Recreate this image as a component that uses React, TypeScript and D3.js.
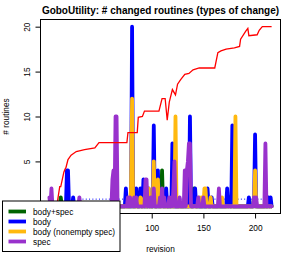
import { useEffect, useRef } from "react";
import * as d3 from "d3";

// revisions run 1..216, most revisions have no change of a given type
const N_REV = 216;

// [revision, # routines] - only the non-zero revisions are listed
const bodySpec: [number, number][] = [
  [12, 1], [110, 4], [141, 2], [175, 1], [199, 1],
];
const body: [number, number][] = [
  [18, 4], [19, 4], [24, 1], [75, 2], [81, 20], [85, 2], [89, 2], [92, 3], [97, 2],
  [102, 9], [106, 4], [114, 2], [120, 7], [137, 10], [142, 2], [154, 2], [158, 1],
  [173, 2], [178, 9], [194, 1], [200, 8], [213, 1], [215, 1],
];
const bodyNonemptySpec: [number, number][] = [
  [80, 2], [81, 12], [89, 1], [93, 1], [97, 2], [102, 5], [106, 3], [123, 10],
  [146, 1], [148, 1], [151, 2], [152, 2], [157, 1], [168, 1], [181, 10], [200, 4],
];
const spec: [number, number][] = [
  [1, 1], [3, 2], [30, 1], [62, 3], [63, 4], [65, 10], [66, 10], [77, 1], [79, 1],
  [83, 1], [85, 1], [94, 3], [95, 3], [99, 1], [102, 2], [108, 1], [110, 2], [112, 1],
  [117, 1], [119, 1], [121, 2], [122, 5], [127, 1], [132, 4], [134, 4], [135, 5],
  [136, 7], [137, 7], [145, 1], [150, 1], [165, 2], [199, 1], [201, 1], [210, 7],
];

// cumulative curve (red)
const trend: [number, number][] = [
  [8, 0], [9, 0.7], [11, 2.2], [12, 2.2], [15, 3.8], [16, 4.1], [17, 4.3], [19, 5.2],
  [22, 5.7], [27, 6.1], [35, 6.3], [45, 6.5], [49, 7.1], [76, 7.1], [77, 8.2], [86, 8.2],
  [87, 9.9], [91, 10.0], [93, 10.6], [107, 10.6], [110, 12.0], [113, 12.0], [115, 9.6],
  [117, 11.6], [120, 13.0], [123, 12.4], [125, 13.6], [128, 14.1], [132, 14.7],
  [136, 14.8], [140, 15.2], [146, 15.4], [161, 15.4], [164, 17.1], [167, 17.3],
  [172, 17.5], [180, 17.65], [185, 17.8], [186, 18.6], [191, 19.5], [193, 19.8],
  [194, 19.0], [202, 19.1], [204, 19.6], [207, 20.0], [216, 20.0],
];

// dotted reference level
const refLevel = 0.8;
const refFrom = 33;

// ticks that are not hidden by the legend
const xTicks = [100, 150, 200];
const yTicks = [5, 10, 15, 20];
const legendLabels = ["body+spec", "body", "body (nonempty spec)", "spec"];
const seriesColors = ["#006400", "#0000ff", "#ffb90f", "#9932cc"];

const FONT = "'Liberation Sans', Arial, Helvetica, sans-serif";

const App = () => {
  const ref = useRef<SVGSVGElement | null>(null);

  useEffect(() => {
    drawChart();
  }, []);

  const drawChart = () => {
    const svg = d3.select(ref.current);
    svg.selectAll("*").remove();

    const x = d3.scaleLinear().domain([-7.6, 224.6]).range([40.5, 280.5]);
    const y = d3.scaleLinear().domain([-0.8, 20.8]).range([213.5, 19.5]);

    const fullSeries = (pts: [number, number][]) => {
      const vals = new Array(N_REV).fill(0);
      pts.forEach(([r, v]) => (vals[r - 1] = v));
      return vals.map((v, i) => [i + 1, v] as [number, number]);
    };

    const line = d3
      .line<[number, number]>()
      .x((d) => x(d[0]))
      .y((d) => y(d[1]));

    // dotted level
    svg
      .append("line")
      .attr("x1", x(refFrom))
      .attr("x2", x(N_REV))
      .attr("y1", y(refLevel))
      .attr("y2", y(refLevel))
      .attr("stroke", "#0000ff")
      .attr("stroke-width", 1)
      .attr("stroke-dasharray", "1,2.3");

    // the four change types, drawn in legend order
    [bodySpec, body, bodyNonemptySpec, spec].forEach((s, i) => {
      svg
        .append("path")
        .attr("d", line(fullSeries(s)))
        .attr("fill", "none")
        .attr("stroke", seriesColors[i])
        .attr("stroke-width", 3.8)
        .attr("stroke-linejoin", "round")
        .attr("stroke-linecap", "round");
    });

    svg
      .append("path")
      .attr("d", line(trend))
      .attr("fill", "none")
      .attr("stroke", "#ff0000")
      .attr("stroke-width", 1.3);

    // box
    svg
      .append("rect")
      .attr("x", 40.5)
      .attr("y", 19.5)
      .attr("width", 240)
      .attr("height", 194)
      .attr("fill", "none")
      .attr("stroke", "#000");

    // X axis
    svg
      .append("g")
      .attr("transform", "translate(0,213.5)")
      .call(d3.axisBottom(x).tickValues(xTicks).tickSize(5).tickPadding(6.5).tickSizeOuter(0))
      .call((g) => g.select(".domain").remove())
      .style("font-size", "8.3px")
      .style("font-family", FONT)
      .style("color", "#000");

    // Y axis, labels parallel to the axis
    svg
      .append("g")
      .attr("transform", "translate(40.5,0)")
      .call(d3.axisLeft(y).tickValues(yTicks).tickSize(5).tickSizeOuter(0))
      .call((g) => g.select(".domain").remove())
      .call((g) =>
        g
          .selectAll("text")
          .attr("transform", "rotate(-90)")
          .attr("x", 0)
          .attr("y", -11)
          .attr("dy", 0)
          .attr("text-anchor", "middle")
      )
      .style("font-size", "8.3px")
      .style("font-family", FONT)
      .style("color", "#000");

    svg
      .append("text")
      .attr("transform", "translate(8.5,116.5) rotate(-90)")
      .attr("text-anchor", "middle")
      .style("font-size", "8.3px")
      .style("font-family", FONT)
      .text("# routines");

    svg
      .append("text")
      .attr("x", 160.5)
      .attr("y", 252)
      .attr("text-anchor", "middle")
      .style("font-size", "8.3px")
      .style("font-family", FONT)
      .text("revision");

    svg
      .append("text")
      .attr("x", 160.5)
      .attr("y", 14)
      .attr("text-anchor", "middle")
      .style("font-size", "10px")
      .style("font-weight", "bold")
      .style("font-family", FONT)
      .text("GoboUtility: # changed routines (types of change)");

    // legend
    const lg = svg.append("g");
    lg.append("rect")
      .attr("x", 2.5)
      .attr("y", 201)
      .attr("width", 117.5)
      .attr("height", 50.5)
      .attr("fill", "#fff")
      .attr("stroke", "#000");

    legendLabels.forEach((lab, i) => {
      const ly = 211.5 + i * 10;
      lg.append("line")
        .attr("x1", 8.5)
        .attr("x2", 26)
        .attr("y1", ly)
        .attr("y2", ly)
        .attr("stroke", seriesColors[i])
        .attr("stroke-width", 3.8);
      lg.append("text")
        .attr("x", 33)
        .attr("y", ly + 3)
        .style("font-size", "8.3px")
        .style("font-family", FONT)
        .text(lab);
    });
  };

  return (
    <svg
      ref={ref}
      width={294}
      height={254}
      style={{ position: "absolute", left: 0, top: 0, background: "#fff" }}
    />
  );
};

export default App;
